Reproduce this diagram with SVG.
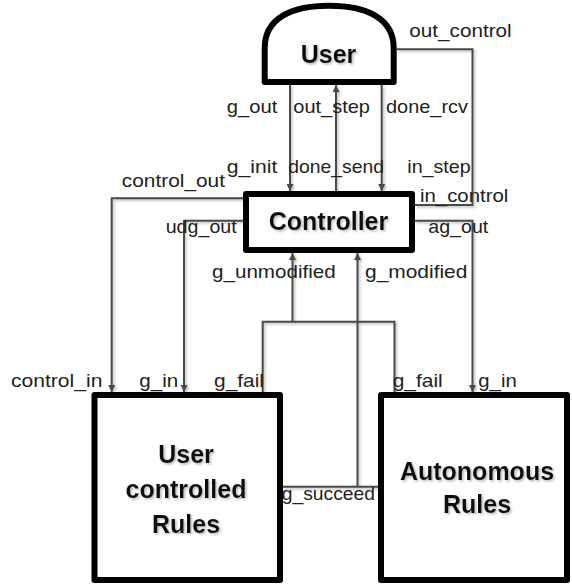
<svg xmlns="http://www.w3.org/2000/svg" width="572" height="586" viewBox="0 0 572 586">
<style>
.box{fill:#fff;stroke:#000;stroke-width:6;stroke-linejoin:round}
.title{font-family:"Liberation Sans",Arial,sans-serif;font-weight:bold;font-size:25px;fill:#111;text-anchor:middle}
.lbl{font-family:"Liberation Sans",Arial,sans-serif;font-size:19px;fill:#222}
.conn{fill:none;stroke:#4a4a4a;stroke-width:2}
</style>
<defs>
<marker id="arr" viewBox="0 0 10 10" refX="10" refY="5" markerWidth="7" markerHeight="7" markerUnits="userSpaceOnUse" orient="auto">
<path d="M0,0 L10,5 L0,10 z" fill="#4a4a4a"/>
</marker>
<filter id="sh" x="-10%" y="-10%" width="130%" height="130%">
<feDropShadow dx="1.5" dy="1.5" stdDeviation="1" flood-color="#888" flood-opacity="0.6"/>
</filter>
</defs>
<rect width="572" height="586" fill="#fff"/>
<g id="connectors" filter="url(#sh)">
<path class="conn" d="M290,85 V191" marker-end="url(#arr)"/>
<path class="conn" d="M336,191 V85" marker-end="url(#arr)"/>
<path class="conn" d="M381.7,85 V191" marker-end="url(#arr)"/>
<path class="conn" d="M396.7,49.3 H472.5 V205 H415"/>
<path class="conn" d="M243,198.3 H111.7 V392" marker-end="url(#arr)"/>
<path class="conn" d="M243,220.7 H184 V392" marker-end="url(#arr)"/>
<path class="conn" d="M415,220.7 H472.5 V392" marker-end="url(#arr)"/>
<path class="conn" d="M262.7,392 V321.7 H394.5 V392"/>
<path class="conn" d="M292.5,321.7 V253" marker-end="url(#arr)"/>
<path class="conn" d="M282.7,486.7 H378.3"/>
<path class="conn" d="M357.5,486.7 V253" marker-end="url(#arr)"/>
</g>
<g id="labels">
<text class="lbl" x="409.3" y="36.7" textLength="102.4" lengthAdjust="spacingAndGlyphs">out_control</text>
<text class="lbl" x="226.7" y="113.3" textLength="50.6" lengthAdjust="spacingAndGlyphs">g_out</text>
<text class="lbl" x="293.3" y="113.3" textLength="76.7" lengthAdjust="spacingAndGlyphs">out_step</text>
<text class="lbl" x="386" y="113.3" textLength="82" lengthAdjust="spacingAndGlyphs">done_rcv</text>
<text class="lbl" x="226.7" y="172.7" textLength="50.6" lengthAdjust="spacingAndGlyphs">g_init</text>
<text class="lbl" x="288.3" y="172.7" textLength="95.7" lengthAdjust="spacingAndGlyphs">done_send</text>
<text class="lbl" x="407.3" y="172.7" textLength="63.4" lengthAdjust="spacingAndGlyphs">in_step</text>
<text class="lbl" x="121.8" y="186.7" textLength="103.2" lengthAdjust="spacingAndGlyphs">control_out</text>
<text class="lbl" x="420" y="202" textLength="88.3" lengthAdjust="spacingAndGlyphs">in_control</text>
<text class="lbl" x="165.7" y="233" textLength="71" lengthAdjust="spacingAndGlyphs">udg_out</text>
<text class="lbl" x="428.3" y="233" textLength="60" lengthAdjust="spacingAndGlyphs">ag_out</text>
<text class="lbl" x="212" y="277.5" textLength="123.8" lengthAdjust="spacingAndGlyphs">g_unmodified</text>
<text class="lbl" x="365" y="277.5" textLength="102.4" lengthAdjust="spacingAndGlyphs">g_modified</text>
<text class="lbl" x="11" y="386.7" textLength="91.4" lengthAdjust="spacingAndGlyphs">control_in</text>
<text class="lbl" x="139.3" y="386.7" textLength="39" lengthAdjust="spacingAndGlyphs">g_in</text>
<text class="lbl" x="214" y="386.7" textLength="50" lengthAdjust="spacingAndGlyphs">g_fail</text>
<text class="lbl" x="392.7" y="386.7" textLength="50" lengthAdjust="spacingAndGlyphs">g_fail</text>
<text class="lbl" x="478.3" y="386.7" textLength="38.4" lengthAdjust="spacingAndGlyphs">g_in</text>
<text class="lbl" x="281.7" y="500" textLength="93.3" lengthAdjust="spacingAndGlyphs">g_succeed</text>
</g>
<g id="user">
<path class="box" d="M264.7,82 V48 C264.7,18 292,5.7 329,5.7 C366,5.7 393.7,18 393.7,48 V82 Z"/>
<text class="title" x="328.5" y="63" font-size="24" filter="url(#sh)">User</text>
</g>
<g id="controller">
<rect class="box" x="246" y="194" width="166" height="56"/>
<text class="title" x="328.5" y="230" filter="url(#sh)">Controller</text>
</g>
<g id="user-controlled-rules">
<rect class="box" x="94.5" y="395" width="185.5" height="185"/>
<text class="title" x="186" y="462.7" filter="url(#sh)">User</text>
<text class="title" x="186" y="498.3" filter="url(#sh)">controlled</text>
<text class="title" x="186" y="533.3" filter="url(#sh)">Rules</text>
</g>
<g id="autonomous-rules">
<rect class="box" x="381" y="395" width="186" height="185"/>
<text class="title" x="477" y="480" filter="url(#sh)">Autonomous</text>
<text class="title" x="477" y="513" filter="url(#sh)">Rules</text>
</g>
</svg>
